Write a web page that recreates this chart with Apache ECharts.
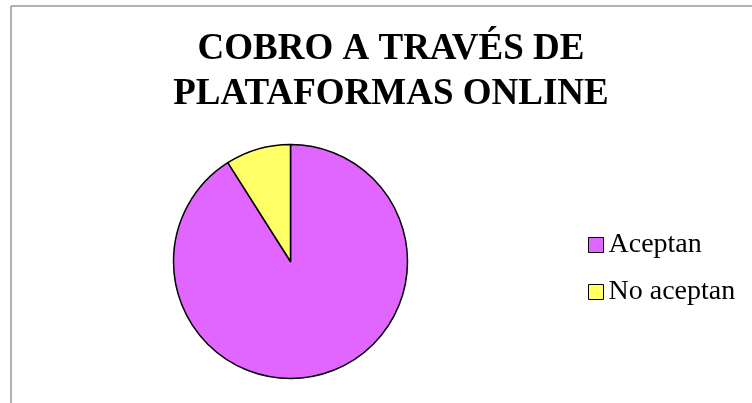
<!DOCTYPE html>
<html lang="es">
<head>
    <meta charset="UTF-8">
    <title>Cobro a través de plataformas online</title>
    <script src="https://cdn.jsdelivr.net/npm/echarts@6/dist/echarts.min.js"></script>
    <style>
        html, body { margin: 0; padding: 0; background: #fff; }
        #chart { width: 752px; height: 403px; }
    </style>
</head>
<body>
    <div id="chart"></div>
    <script type="text/javascript">
        // datos
        var categorias = ['Aceptan', 'No aceptan'];
        var valores = [91, 9];
        var colores = ['#E066FF', '#FFFF66'];

        var myChart = echarts.init(document.getElementById('chart'));

        var datos = categorias.map(function (nombre, i) {
            return { name: nombre, value: valores[i], itemStyle: { color: colores[i] } };
        });

        var option = {
            animation: false,
            title: {
                text: 'COBRO A TRAVÉS DE\nPLATAFORMAS ONLINE',
                left: 386,
                textAlign: 'center',
                top: 22,
                textStyle: {
                    fontFamily: 'Liberation Serif',
                    fontWeight: 'bold',
                    fontSize: 37,
                    lineHeight: 45,
                    color: '#000'
                }
            },
            legend: {
                orient: 'vertical',
                left: 583,
                top: 226,
                itemWidth: 15,
                itemHeight: 15,
                itemGap: 19,
                icon: 'rect',
                data: categorias,
                itemStyle: { borderColor: '#000', borderWidth: 1 },
                textStyle: {
                    fontFamily: 'Liberation Serif',
                    fontSize: 28,
                    lineHeight: 28,
                    color: '#000'
                }
            },
            // marco gris (borde superior e izquierdo)
            graphic: [
                { type: 'line', shape: { x1: 11, y1: 6, x2: 752, y2: 6 }, style: { stroke: '#999', lineWidth: 1.5 } },
                { type: 'line', shape: { x1: 11, y1: 6, x2: 11, y2: 403 }, style: { stroke: '#999', lineWidth: 1.5 } }
            ],
            series: [
                {
                    type: 'pie',
                    center: [290.5, 261.5],
                    radius: 117,
                    startAngle: 90,
                    clockwise: true,
                    data: datos,
                    label: { show: false },
                    labelLine: { show: false },
                    silent: true,
                    itemStyle: { borderColor: '#000', borderWidth: 1.5 }
                }
            ]
        };
        myChart.setOption(option);
    </script>
</body>
</html>
